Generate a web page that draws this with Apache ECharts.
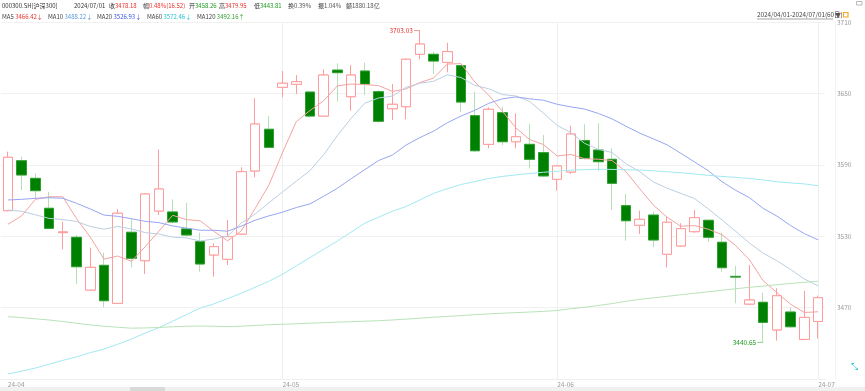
<!DOCTYPE html>
<html><head><meta charset="utf-8">
<script src="https://cdn.jsdelivr.net/npm/echarts@6/dist/echarts.min.js"></script>
<style>html,body{margin:0;padding:0;background:#fff;overflow:hidden}#c{width:865px;height:391px}</style>
</head><body><div id="c"></div>
<script>
// ---------- data ----------
const dates = [
 '2024-04-01','2024-04-02','2024-04-03','2024-04-08','2024-04-09','2024-04-10','2024-04-11','2024-04-12','2024-04-15','2024-04-16',
 '2024-04-17','2024-04-18','2024-04-19','2024-04-22','2024-04-23','2024-04-24','2024-04-25','2024-04-26','2024-04-29','2024-04-30',
 '2024-05-06','2024-05-07','2024-05-08','2024-05-09','2024-05-10','2024-05-13','2024-05-14','2024-05-15','2024-05-16','2024-05-17',
 '2024-05-20','2024-05-21','2024-05-22','2024-05-23','2024-05-24','2024-05-27','2024-05-28','2024-05-29','2024-05-30','2024-05-31',
 '2024-06-03','2024-06-04','2024-06-05','2024-06-06','2024-06-07','2024-06-11','2024-06-12','2024-06-13','2024-06-14','2024-06-17',
 '2024-06-18','2024-06-19','2024-06-20','2024-06-21','2024-06-24','2024-06-25','2024-06-26','2024-06-27','2024-06-28','2024-07-01'
];
const opens = [3551.5,3593.5,3578.7,3553.5,3533.0,3529.1,3484.7,3505.5,3473.5,3533.3,
 3509.4,3551.2,3550.4,3536.1,3525.4,3514.2,3510.6,3531.8,3584.9,3620.0,
 3655.3,3657.8,3651.3,3631.1,3669.8,3647.4,3669.0,3651.6,3637.3,3639.0,
 3683.1,3683.1,3676.3,3673.5,3631.4,3607.3,3633.9,3609.5,3607.3,3600.3,
 3577.9,3584.0,3610.4,3602.5,3594.7,3555.7,3539.2,3547.8,3514.8,3521.8,
 3533.8,3543.4,3524.9,3496.2,3472.9,3474.4,3451.1,3466.2,3443.2,3458.26];
const closes = [3596.4,3581.5,3568.3,3536.6,3533.6,3504.3,3503.8,3475.7,3549.3,3511.4,
 3565.5,3569.7,3542.0,3531.0,3506.6,3521.2,3529.6,3584.3,3624.4,3604.8,
 3658.7,3660.0,3631.1,3665.6,3667.6,3665.6,3658.0,3626.7,3641.0,3678.9,
 3691.7,3677.4,3685.3,3642.9,3601.9,3636.8,3609.5,3613.7,3594.7,3580.7,
 3589.1,3616.0,3595.6,3592.7,3574.5,3543.0,3544.2,3526.8,3541.7,3536.3,
 3545.6,3529.1,3503.5,3495.6,3476.3,3457.5,3479.9,3453.8,3461.66,3478.18];
const lows = [3551.0,3568.9,3561.9,3536.0,3519.0,3489.8,3484.0,3470.2,3473.0,3503.8,
 3498.2,3547.8,3540.9,3530.0,3500.1,3495.9,3505.8,3531.0,3579.6,3604.0,
 3646.9,3649.7,3630.0,3630.5,3643.2,3635.6,3648.8,3625.5,3627.8,3628.4,
 3678.9,3666.5,3667.9,3634.5,3600.6,3604.0,3606.7,3604.0,3587.1,3580.0,
 3568.3,3582.3,3594.7,3585.1,3552.0,3526.2,3531.8,3520.7,3503.8,3521.0,
 3533.0,3525.4,3500.1,3473.5,3472.0,3440.65,3442.1,3453.0,3443.0,3443.81];
const highs = [3601.1,3596.9,3582.9,3567.4,3542.2,3531.0,3520.3,3516.1,3552.9,3544.5,
 3566.0,3603.1,3561.0,3558.2,3533.0,3524.0,3543.6,3588.0,3646.0,3631.1,
 3669.0,3665.6,3652.0,3670.4,3675.5,3674.0,3676.0,3653.0,3658.0,3679.5,
 3703.03,3685.3,3692.8,3674.0,3651.6,3638.5,3639.0,3633.4,3624.4,3615.2,
 3590.0,3623.0,3624.2,3625.0,3604.0,3565.5,3551.5,3550.6,3546.4,3540.9,
 3552.0,3544.0,3533.0,3504.9,3505.8,3482.5,3486.2,3470.2,3484.1,3479.95];
const ma5 = [3540.0,3547.0,3561.0,3563.2,3563.2,3544.8,3529.3,3510.7,3513.3,3508.9,
 3521.1,3534.3,3547.6,3543.9,3543.0,3534.1,3526.1,3534.5,3553.2,3572.9,
 3600.4,3626.4,3635.8,3644.0,3656.6,3658.0,3657.6,3656.7,3651.8,3654.0,
 3659.3,3663.1,3674.9,3675.2,3659.8,3648.9,3635.3,3621.0,3611.3,3607.1,
 3597.5,3598.8,3595.2,3594.8,3593.6,3584.4,3570.0,3556.2,3546.0,3538.4,
 3538.9,3535.9,3531.2,3522.1,3510.1,3492.5,3482.6,3472.7,3465.8,3466.42];
const ma10 = [3552.0,3551.0,3548.0,3545.0,3544.0,3542.4,3538.2,3535.9,3538.2,3536.1,
 3533.0,3531.8,3529.2,3528.6,3526.0,3527.6,3530.2,3541.1,3548.6,3558.0,
 3567.3,3576.3,3585.2,3598.6,3614.8,3629.2,3642.0,3646.3,3647.9,3655.3,
 3658.7,3660.4,3665.8,3663.5,3656.9,3654.1,3649.2,3648.0,3643.3,3633.5,
 3623.2,3617.1,3608.1,3603.1,3600.4,3591.0,3584.4,3575.7,3570.4,3566.0,
 3561.7,3553.0,3543.7,3534.1,3524.3,3515.7,3509.3,3502.0,3494.0,3488.22];
const ma20 = [3560.5,3561.0,3561.9,3562.4,3561.9,3557.7,3552.9,3547.8,3546.7,3544.7,
 3542.5,3541.4,3538.6,3536.8,3535.0,3535.0,3534.2,3538.5,3543.4,3547.1,
 3550.2,3554.1,3557.2,3563.6,3570.4,3578.4,3586.1,3593.7,3598.3,3606.7,
 3613.0,3618.4,3625.5,3631.1,3635.9,3641.7,3645.6,3647.2,3645.6,3644.4,
 3641.0,3638.8,3637.0,3633.3,3628.7,3622.6,3616.8,3611.9,3606.9,3599.8,
 3592.5,3585.1,3575.9,3568.6,3562.4,3553.4,3546.9,3538.9,3532.2,3526.93];
const ma60 = [3414.0,3416.5,3419.0,3422.3,3425.5,3428.5,3432.0,3435.0,3439.0,3443.5,
 3448.5,3453.0,3458.5,3464.0,3469.5,3473.0,3477.5,3482.0,3487.0,3492.0,
 3498.0,3505.0,3512.0,3519.0,3526.0,3533.5,3541.0,3546.0,3551.0,3555.0,
 3560.5,3566.0,3570.0,3573.5,3576.0,3578.5,3580.3,3581.6,3582.8,3583.8,
 3584.7,3585.5,3586.0,3586.3,3586.2,3586.0,3585.7,3585.0,3584.2,3583.4,
 3582.3,3581.2,3580.3,3579.5,3578.6,3577.3,3575.8,3574.8,3574.0,3572.46];
const ma120 = [3462.3,3461.5,3460.5,3459.5,3458.2,3456.8,3455.3,3454.2,3453.4,3452.6,
 3452.8,3453.2,3453.8,3454.2,3454.4,3454.2,3453.9,3454.3,3454.9,3455.5,
 3455.9,3456.3,3456.8,3457.2,3457.7,3458.1,3458.5,3458.9,3459.5,3460.2,
 3461.0,3461.8,3462.5,3463.2,3464.0,3464.6,3465.2,3465.7,3466.2,3466.7,
 3467.5,3469.0,3470.2,3471.7,3473.3,3475.2,3476.9,3478.1,3479.4,3480.7,
 3482.0,3483.2,3484.5,3485.8,3487.0,3488.0,3489.2,3490.2,3491.2,3492.16];
const xTickDates = ['2024-04-01','2024-05-06','2024-06-03','2024-07-01'];
const xTickLabels = ['24-04','24-05','24-06','24-07'];
const yMin = 3410, yMax = 3710, yStep = 60;
const headLine1 = [['000300.SH[沪深300]',''],['2024/07/01',''],['收','3478.18'],['幅','0.48%(16.52)'],['开','3458.26'],['高','3479.95'],['低','3443.81'],['换','0.39%'],['振','1.04%'],['额','1880.18亿']];
const headLine2 = [['MA5 ','3466.42↓'],['MA10 ','3488.22↓'],['MA20 ','3526.93↓'],['MA60 ','3572.46↓'],['MA120 ','3492.16↑']];
const rangeText = '2024/04/01-2024/07/01(60日)';

// ---------- styles ----------
const RED = '#e8322f', GRN = '#1e9b1e', GRAY = '#555';
const FONT = '"Noto Sans CJK SC", "Microsoft YaHei", sans-serif';
const HF = '6px ' + FONT;
const head1X = [2, 74, 109, 143, 189, 219, 254, 288, 318, 346];
const head1C = [GRAY, GRAY, RED, RED, GRN, RED, GRN, GRAY, GRAY, GRAY];
const head2X = [2, 48, 97, 147, 197];
const maColors = ['#f5a3a3', '#bccfe0', '#97a6f2', '#a3e9f2', '#b9e3b9'];
const maTextColors = [RED, '#5a9ad8', '#3355ee', '#22c0d6', '#30a030'];

const kData = dates.map((d, i) => [opens[i], closes[i], lows[i], highs[i]]);
const bodyData = dates.map((d, i) => [opens[i], closes[i], Math.min(opens[i], closes[i]), Math.max(opens[i], closes[i])]);

const graphics = [];
headLine1.forEach((g, i) => {
  graphics.push({type: 'text', x: head1X[i], y: 6, silent: true, style: {
    text: g[1] ? '{l|' + g[0] + '}{v|' + g[1] + '}' : '{l|' + g[0] + '}',
    font: HF, verticalAlign: 'middle',
    rich: {l: {fill: '#333', font: HF}, v: {fill: head1C[i], font: HF}}
  }});
});
headLine2.forEach((g, i) => {
  graphics.push({type: 'text', x: head2X[i], y: 17, silent: true, style: {
    text: '{l|' + g[0] + '}{v|' + g[1] + '}',
    font: HF, verticalAlign: 'middle',
    rich: {l: {fill: '#444', font: HF}, v: {fill: maTextColors[i], font: HF}}
  }});
});
graphics.push({type: 'text', x: 757, y: 15, silent: true, style: {text: rangeText, fill: '#444', font: '6.3px ' + FONT, verticalAlign: 'middle'}});
graphics.push({type: 'line', silent: true, shape: {x1: 757, y1: 19, x2: 833, y2: 19}, style: {stroke: '#666', lineWidth: 0.6}});
graphics.push({type: 'text', x: 835, y: 15, silent: true, style: {text: '▼', fill: '#555', font: '6px ' + FONT, verticalAlign: 'middle'}});
graphics.push({type: 'rect', silent: true, shape: {x: 843.5, y: 12.5, width: 4.5, height: 4.5}, style: {fill: '#fff', stroke: '#f5a623', lineWidth: 1.2}});
graphics.push({type: 'rect', silent: true, shape: {x: 856.5, y: 1.5, width: 5.5, height: 3.5}, style: {fill: '#fff', stroke: '#aaa', lineWidth: 0.8}});
graphics.push({type: 'text', x: 851, y: 368, silent: true, style: {text: '⤡', fill: '#35c6d8', font: '9px "DejaVu Sans"', verticalAlign: 'middle'}});
graphics.push({type: 'rect', silent: true, shape: {x: 0, y: 387, width: 865, height: 4}, style: {fill: '#f0f0f0'}});
graphics.push({type: 'rect', silent: true, shape: {x: 130, y: 387, width: 35, height: 4}, style: {fill: '#d9d9d9'}});

const maNames = ['MA5', 'MA10', 'MA20', 'MA60', 'MA120'];
const maArrays = [ma5, ma10, ma20, ma60, ma120];
const maSeries = maArrays.map((arr, i) => ({
  name: maNames[i], type: 'line', data: arr, symbol: 'none', smooth: false, z: 4,
  lineStyle: {color: maColors[i], width: 1}, silent: true
}));
maSeries[4].markLine = {
  silent: true, symbol: ['none', 'none'], z: 1, animation: false,
  label: {show: false}, lineStyle: {color: '#efefef', width: 1, type: 'solid'},
  data: xTickDates.slice(1).map(d => ({xAxis: d}))
};

const option = {
  animation: false,
  backgroundColor: '#fff',
  grid: {left: 1, right: 40, top: 22.3, bottom: 12.2},
  xAxis: {
    type: 'category', data: dates, boundaryGap: true,
    axisLine: {show: true, lineStyle: {color: '#eeeeee'}},
    axisTick: {show: false},
    splitLine: {show: false},
    axisLabel: {
      interval: (idx, val) => xTickDates.indexOf(val) >= 0,
      formatter: val => xTickLabels[xTickDates.indexOf(val)],
      align: 'left', fontSize: 6.5, color: '#999', margin: 2, fontFamily: FONT
    }
  },
  yAxis: {
    type: 'value', position: 'right', min: yMin, max: yMax, interval: yStep, offset: 10,
    axisLine: {show: true, lineStyle: {color: '#f2f2f2'}},
    axisTick: {show: false},
    splitLine: {show: true, lineStyle: {color: '#f1f1f1', width: 1}},
    axisLabel: {showMinLabel: false, fontSize: 6.5, color: '#999', margin: 2, fontFamily: FONT, formatter: v => String(v)}
  },
  series: [
    {
      name: 'K', type: 'candlestick', data: kData, barWidth: 10, z: 2, silent: true,
      itemStyle: {color: '#ffffff', color0: '#008000', borderColor: '#ff9c9c', borderColor0: '#b5dfb5', borderWidth: 1},
      markPoint: {
        silent: true, animation: false,
        symbol: 'rect', symbolSize: [6, 1], symbolOffset: [-3, 0],
        data: [
          {type: 'max', valueDim: 'highest', itemStyle: {color: '#e89a9a'},
           label: {show: true, position: 'left', distance: 1, color: RED, fontSize: 6.5, fontFamily: FONT, formatter: p => Number(p.value).toFixed(2)}},
          {type: 'min', valueDim: 'lowest', itemStyle: {color: '#8fce8f'},
           label: {show: true, position: 'left', distance: 1, color: GRN, fontSize: 6.5, fontFamily: FONT, formatter: p => Number(p.value).toFixed(2)}}
        ]
      }
    },
    {
      name: 'KBody', type: 'candlestick', data: bodyData, barWidth: 10, z: 3, silent: true,
      itemStyle: {color: '#ffffff', color0: '#008000', borderColor: '#ff9c9c', borderColor0: '#2e9e2e', borderWidth: 1}
    }
  ].concat(maSeries),
  graphic: graphics
};
const chart = echarts.init(document.getElementById('c'), null, {renderer: 'canvas', devicePixelRatio: 1});
chart.setOption(option);
</script>
</body></html>
